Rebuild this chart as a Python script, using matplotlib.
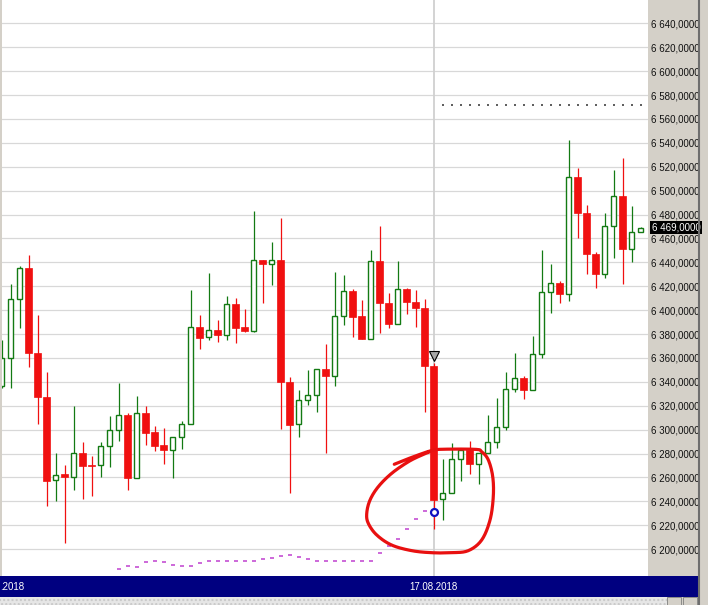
import numpy as np
import matplotlib
matplotlib.use('Agg')
import matplotlib.pyplot as plt
from matplotlib.lines import Line2D
from matplotlib.patches import Rectangle
import matplotlib.transforms as mtransforms

plt.rcParams['font.family'] = ['Liberation Sans', 'DejaVu Sans']

# candle data (one per bar)
opens = [6336.7, 6359.7, 6409.0, 6435.0, 6364.4, 6327.0, 6257.6, 6262.6, 6260.6, 6280.2,
         6270.5, 6270.0, 6286.0, 6299.4, 6312.2, 6259.7, 6313.6, 6298.0, 6287.0, 6283.2,
         6293.6, 6304.4, 6385.6, 6377.2, 6383.1, 6379.2, 6404.9, 6385.9, 6382.8, 6441.7,
         6438.3, 6441.7, 6339.6, 6304.4, 6324.5, 6328.7, 6350.5, 6345.1, 6394.8, 6416.0,
         6394.8, 6375.6, 6440.8, 6405.7, 6388.1, 6417.4, 6406.5, 6401.5, 6353.2, 6241.7,
         6247.2, 6275.1, 6283.0, 6271.0, 6280.2, 6289.9, 6301.9, 6333.7, 6342.9, 6333.1,
         6363.0, 6414.9, 6422.4, 6413.2, 6511.6, 6481.0, 6446.7, 6430.2, 6470.6, 6495.7,
         6450.9, 6465.6]
highs = [6375.0, 6421.6, 6437.0, 6446.0, 6396.0, 6348.0, 6280.2, 6270.0, 6319.8, 6289.6,
         6278.0, 6289.9, 6311.4, 6338.7, 6314.2, 6328.1, 6319.8, 6303.0, 6301.1, 6293.6,
         6307.2, 6416.8, 6396.0, 6430.8, 6391.7, 6411.8, 6409.9, 6400.9, 6482.9, 6441.7,
         6457.2, 6476.8, 6344.3, 6333.1, 6349.9, 6350.5, 6371.4, 6431.9, 6429.1, 6417.4,
         6408.5, 6450.3, 6470.4, 6414.0, 6441.0, 6418.2, 6416.8, 6409.3, 6355.5, 6275.1,
         6288.5, 6284.4, 6290.5, 6280.2, 6312.2, 6326.7, 6348.4, 6364.4, 6344.9, 6378.3,
         6450.3, 6438.6, 6424.4, 6542.3, 6518.7, 6488.0, 6448.9, 6481.0, 6517.2, 6527.0,
         6487.4, 6469.5]
lows = [6334.6, 6334.6, 6385.0, 6352.0, 6304.5, 6236.3, 6240.5, 6205.0, 6249.5, 6242.2,
        6244.4, 6260.6, 6269.0, 6290.7, 6249.5, 6259.7, 6287.1, 6282.3, 6271.0, 6259.7,
        6283.5, 6304.4, 6367.2, 6375.0, 6373.5, 6375.0, 6372.2, 6382.0, 6382.0, 6405.7,
        6421.0, 6300.5, 6246.7, 6294.0, 6320.6, 6314.7, 6280.7, 6336.7, 6387.5, 6377.2,
        6375.6, 6375.6, 6380.6, 6384.8, 6388.1, 6396.5, 6386.1, 6314.5, 6216.6, 6224.4,
        6246.7, 6257.2, 6262.6, 6254.2, 6280.2, 6284.4, 6299.7, 6331.7, 6325.6, 6333.1,
        6359.7, 6397.3, 6405.7, 6407.9, 6460.6, 6430.0, 6418.2, 6427.1, 6443.3, 6421.6,
        6440.5, 6465.0]
closes = [6359.7, 6409.0, 6435.0, 6364.4, 6327.0, 6257.2, 6262.3, 6260.6, 6280.2, 6269.5,
          6269.5, 6286.0, 6299.4, 6312.2, 6259.7, 6313.6, 6297.4, 6286.5, 6283.2, 6293.6,
          6304.4, 6385.6, 6376.9, 6383.1, 6379.2, 6404.9, 6385.3, 6382.8, 6441.7, 6438.3,
          6441.7, 6339.6, 6303.8, 6324.5, 6328.7, 6350.5, 6345.1, 6394.8, 6416.0, 6394.5,
          6375.6, 6440.8, 6405.7, 6388.1, 6417.4, 6406.5, 6401.5, 6353.2, 6241.1, 6247.2,
          6275.1, 6283.0, 6271.0, 6280.2, 6289.9, 6301.9, 6333.7, 6342.9, 6333.1, 6363.0,
          6414.9, 6422.4, 6413.2, 6511.6, 6481.0, 6446.7, 6430.2, 6470.6, 6495.7, 6450.9,
          6465.6, 6469.0]

# lower dotted indicator (bars 13..47)
ind_start = 13
ind_values = [6183.1, 6185.9, 6185.3, 6189.2, 6190.3, 6189.2, 6186.4, 6185.9, 6185.9, 6188.1,
              6189.8, 6189.8, 6189.8, 6189.8, 6189.8, 6190.3, 6192.0, 6192.6, 6194.2, 6194.8,
              6193.6, 6192.0, 6190.3, 6189.8, 6190.3, 6190.3, 6190.3, 6190.3, 6189.8, 6196.5,
              6202.6, 6208.2, 6216.6, 6225.0, 6231.6]
# upper dotted level (bars 49..71)
level_start, level_end, level_value = 49, 71, 6571.4

signal_bar = 48
signal_down = 6361.8      # grey triangle
signal_point = 6230.8     # blue ring
last_price = 6469.0
date_labels = ['.2018', '17.08.2018']

# hand drawn loop (bar index, price)
loop_pts = [(43.62, 6271.0), (44.81, 6274.6), (46.29, 6278.8), (47.59, 6282.1), (48.7, 6283.5),
            (52.59, 6283.5), (53.33, 6281.5), (54.07, 6274.6), (54.56, 6260.6), (54.62, 6243.8),
            (54.26, 6224.4), (53.33, 6207.6), (51.84, 6198.7), (50.0, 6197.0), (47.78, 6197.0),
            (45.56, 6198.7), (43.33, 6203.4), (41.67, 6211.8), (40.73, 6221.6), (40.56, 6230.0),
            (40.92, 6241.0), (41.84, 6252.2), (43.33, 6263.4), (45.18, 6273.1), (46.67, 6278.7),
            (47.59, 6281.5)]

W, H = 708, 605
gray = '#d4d0c8'
green = '#137a13'
red = '#f01010'

fig = plt.figure(figsize=(W / 100, H / 100), dpi=100, facecolor=gray)
ax = fig.add_axes([2 / W, 29 / H, 646 / W, 576 / H])
ax.set_facecolor('white')

x = np.arange(len(opens))
o = np.array(opens); c = np.array(closes)
up = c >= o
ax.vlines(x[up], np.array(lows)[up], np.array(highs)[up], color=green, lw=0.9, zorder=2)
ax.vlines(x[~up], np.array(lows)[~up], np.array(highs)[~up], color=red, lw=0.9, zorder=2)
ax.bar(x[up], np.abs(c - o)[up], bottom=np.minimum(o, c)[up], width=0.6,
       facecolor='white', edgecolor=green, linewidth=1.0, zorder=3)
ax.bar(x[~up], np.maximum(np.abs(c - o)[~up], 1.0), bottom=np.minimum(o, c)[~up], width=0.72,
       facecolor=red, edgecolor=red, linewidth=0.5, zorder=3)

ax.axvline(signal_bar, color='#d0d0d0', lw=1.3, zorder=1)

ind_x = np.arange(ind_start, ind_start + len(ind_values))
ax.plot(ind_x, ind_values, ls='none', marker='_', ms=2.2, mew=1.1, color='#c040d0', zorder=4)
lvl_x = np.arange(level_start, level_end + 1)
ax.plot(lvl_x, [level_value] * len(lvl_x), ls='none', marker='_', ms=1.6, mew=1.1,
        color='#303030', zorder=4)

ax.plot([signal_bar], [signal_down], marker='v', ms=7.5, mfc='#a8a8a8', mec='black',
        mew=0.8, zorder=6)

# smooth the hand drawn loop
pts = np.array(loop_pts)
P = np.vstack([pts[0], pts, pts[-1]])
curve = []
for k in range(1, len(P) - 2):
    p0, p1, p2, p3 = P[k - 1], P[k], P[k + 1], P[k + 2]
    for t in np.linspace(0, 1, 12, endpoint=False):
        curve.append(0.5 * ((2 * p1) + (-p0 + p2) * t + (2 * p0 - 5 * p1 + 4 * p2 - p3) * t ** 2
                            + (-p0 + 3 * p1 - 3 * p2 + p3) * t ** 3))
curve.append(P[-2])
curve = np.array(curve)
ax.plot(curve[:, 0], curve[:, 1], color='#e81010', lw=2.3, solid_capstyle='round', zorder=7)

ax.plot([signal_bar], [signal_point], marker='o', ms=5, mfc='white', mec='#1010c0',
        mew=1.6, zorder=8)

ax.set_xlim((2 - 1.7) / 9, (648 - 1.7) / 9)
ax.set_ylim(6177.5, 6659.5)
ticks = np.arange(6200, 6641, 20)
ax.set_yticks(ticks)
ax.set_yticklabels([f'{t // 1000} {t % 1000:03d},0000' for t in ticks])
ax.yaxis.tick_right()
ax.tick_params(axis='y', length=0, pad=2.5, labelsize=7, labelcolor='#101010')
ax.set_xticks([])
ax.grid(axis='y', color='#d8d8d8', lw=0.9, zorder=0)
ax.set_axisbelow(True)
for s in ax.spines.values():
    s.set_visible(False)

trans = mtransforms.blended_transform_factory(ax.transAxes, ax.transData)
ax.text(1.0 + 3.5 / 646, last_price, f'{int(last_price) // 1000} {int(last_price) % 1000:03d},0000',
        transform=trans, ha='left', va='center', fontsize=7, color='white', zorder=10,
        bbox=dict(boxstyle='square,pad=0.15', fc='black', ec='none'), clip_on=False)

# date bar
bar = fig.add_axes([0, 8 / H, 698 / W, 21 / H])
bar.set_facecolor('#000080')
bar.set_xlim(0, 698)
bar.set_ylim(0, 1)
bar.set_xticks([]); bar.set_yticks([])
for s in bar.spines.values():
    s.set_visible(False)
bar.text(0.5, 0.5, date_labels[0], color='white', fontsize=7, ha='left', va='center')
bar.text(1.7 + 9 * signal_bar, 0.5, date_labels[1], color='white', fontsize=7,
         ha='center', va='center')

# scroll strip and frame
fig.patches.append(Rectangle((0, 0), 667 / W, 8 / H, transform=fig.transFigure,
                             facecolor='#e6e6e6', edgecolor='#c8c8c8', hatch='....', lw=0))
fig.patches.append(Rectangle((667 / W, 0), 14 / W, 8 / H, transform=fig.transFigure,
                             facecolor=gray, edgecolor='#808080', lw=0.6))
fig.patches.append(Rectangle((683 / W, 0), 14 / W, 8 / H, transform=fig.transFigure,
                             facecolor=gray, edgecolor='#808080', lw=0.6))
fig.add_artist(Line2D([699 / W, 699 / W], [0, 1], transform=fig.transFigure,
                      color='#6e6e6e', lw=1.5))

fig.savefig('out.png', dpi=100, facecolor=gray)
